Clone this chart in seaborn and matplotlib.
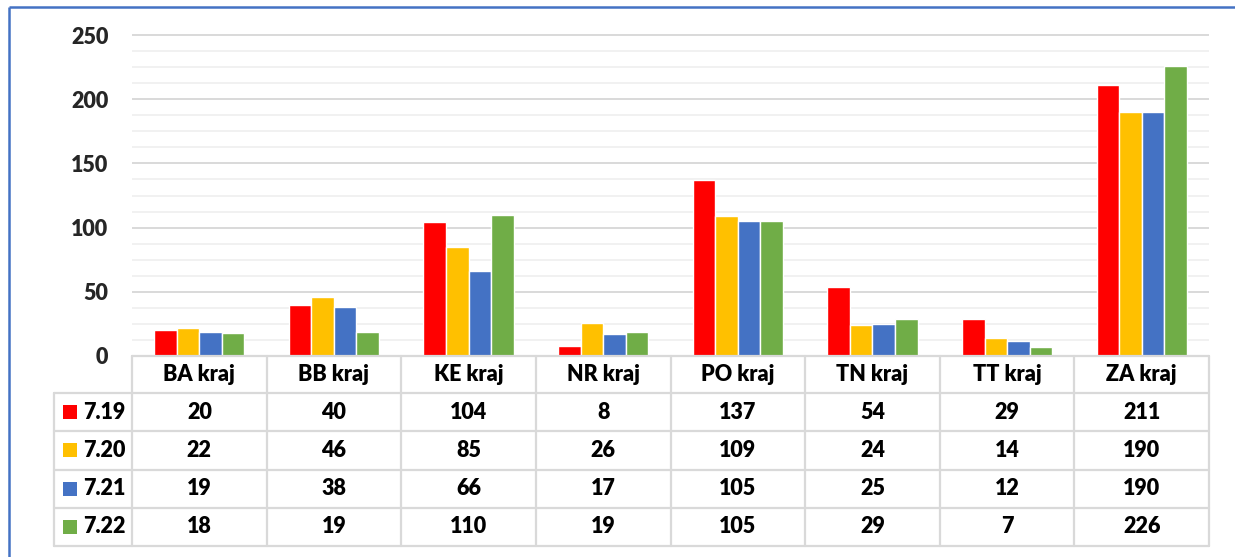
import numpy as np
import pandas as pd
import matplotlib
matplotlib.use("Agg")
import matplotlib.pyplot as plt
import seaborn as sns
from matplotlib.patches import Rectangle
from matplotlib.ticker import MultipleLocator

regions = ["BA kraj", "BB kraj", "KE kraj", "NR kraj", "PO kraj", "TN kraj", "TT kraj", "ZA kraj"]
periods = ["7.19", "7.20", "7.21", "7.22"]
v_719 = [20, 40, 104, 8, 137, 54, 29, 211]
v_720 = [22, 46, 85, 26, 109, 24, 14, 190]
v_721 = [19, 38, 66, 17, 105, 25, 12, 190]
v_722 = [18, 19, 110, 19, 105, 29, 7, 226]
colors = ["#FF0000", "#FFC000", "#4472C4", "#70AD47"]

series = [v_719, v_720, v_721, v_722]
df = pd.DataFrame({
    "kraj": regions * len(periods),
    "obdobie": np.repeat(periods, len(regions)),
    "pocet": sum(series, []),
})

W, H = 1235, 557
sns.set_theme(style="white")
plt.rcParams["font.family"] = ["Lato", "DejaVu Sans"]
FS = 15.5
WT = "heavy"
GRID = "#D9D9D9"

fig = plt.figure(figsize=(W / 100, H / 100), dpi=100)

# plot area (pixels)
x0, x1 = 132, 1209
y_zero = 356
px_per_unit = 321 / 250
y_max = 252
y_top = y_zero - y_max * px_per_unit
ax = fig.add_axes([x0 / W, 1 - y_zero / H, (x1 - x0) / W, (y_zero - y_top) / H])

sns.barplot(data=df, x="kraj", y="pocet", hue="obdobie", palette=colors,
            width=0.67, saturation=1, ax=ax, legend=False, zorder=3)
ax.set_xlim(-0.5, len(regions) - 0.5)
ax.set_ylim(0, y_max)
ax.set_yticks(range(0, 251, 50))
ax.yaxis.set_minor_locator(MultipleLocator(12.5))
ax.grid(which="major", axis="y", color=GRID, lw=1.4, zorder=0)
ax.grid(which="minor", axis="y", color="#EFEFEF", lw=1.2, zorder=0)
ax.set_axisbelow(True)
ax.set_xticks([])
ax.set_xlabel("")
ax.set_ylabel("")
ax.tick_params(axis="y", which="both", length=0, pad=17, labelsize=FS)
for lab in ax.get_yticklabels():
    lab.set_fontweight(WT)
for s in ax.spines.values():
    s.set_visible(False)

# overlay in pixel coordinates for the data table and the frame
ov = fig.add_axes([0, 0, 1, 1])
ov.set_xlim(0, W)
ov.set_ylim(H, 0)
ov.axis("off")
ov.patch.set_alpha(0)

xs = np.linspace(x0, x1, len(regions) + 1)
head_top, head_bot = 356, 393
row_h = 38.25
rows_y = head_bot + row_h * np.arange(len(periods) + 1)
leg_x = 54
lw_t = 1.6

ov.plot([x0, x1], [head_top, head_top], color=GRID, lw=lw_t)
for y in rows_y:
    ov.plot([leg_x, x1], [y, y], color=GRID, lw=lw_t)
ov.plot([leg_x, leg_x], [head_bot, rows_y[-1]], color=GRID, lw=lw_t)
for x in xs:
    ov.plot([x, x], [head_top, rows_y[-1]], color=GRID, lw=lw_t)

cx = (xs[:-1] + xs[1:]) / 2
for c, name in zip(cx, regions):
    ov.text(c, (head_top + head_bot) / 2, name, ha="center", va="center",
            fontsize=FS, fontweight=WT, color="black")

for i, (p, vals, col) in enumerate(zip(periods, series, colors)):
    cy = (rows_y[i] + rows_y[i + 1]) / 2
    ov.add_patch(Rectangle((63, cy - 7), 14, 14, color=col, lw=0))
    ov.text(83, cy, p, ha="left", va="center", fontsize=FS, fontweight=WT, color="black")
    for c, v in zip(cx, vals):
        ov.text(c, cy, str(v), ha="center", va="center", fontsize=FS,
                fontweight=WT, color="black")

# blue chart frame (cropped on the right and bottom)
ov.plot([9, W], [7, 7], color="#4472C4", lw=1.8, solid_capstyle="butt")
ov.plot([9, 9], [7, H], color="#4472C4", lw=1.8, solid_capstyle="butt")

fig.savefig("out.png", dpi=100)
